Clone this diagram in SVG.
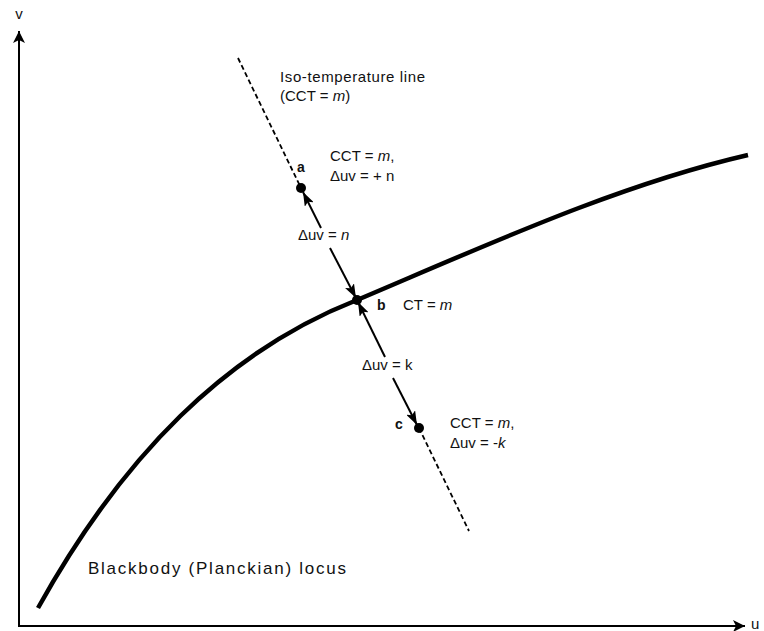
<svg xmlns="http://www.w3.org/2000/svg" width="764" height="631" viewBox="0 0 764 631">
<style>
  text { font-family: "Liberation Sans", Arial, sans-serif; font-size: 15px; fill: #111; }
  .bold { font-weight: bold; font-size: 14px; }
  .big { font-size: 17px; }
  .axis { stroke: #000; stroke-width: 2; fill: none; }
  .locus { stroke: #000; stroke-width: 4.5; fill: none; stroke-linecap: butt; }
  .iso { stroke: #000; stroke-width: 1.8; fill: none; stroke-dasharray: 5 3; }
  .conn { stroke: #000; stroke-width: 2; fill: none; }
  .dot { fill: #000; }
</style>
<defs>
  <marker id="axhead" viewBox="0 0 12 12" refX="12" refY="6" markerWidth="12" markerHeight="12" markerUnits="userSpaceOnUse" orient="auto">
    <path d="M0,0 L12,6 L0,12 L3,6 z" fill="#000"/>
  </marker>
  <marker id="head" viewBox="0 0 14 10" refX="14" refY="5" markerWidth="14" markerHeight="10" markerUnits="userSpaceOnUse" orient="auto">
    <path d="M0,0 L14,5 L0,10 L3,5 z" fill="#000"/>
  </marker>
</defs>

<g id="axes">
  <path class="axis" d="M19,626 L19,31" marker-end="url(#axhead)"/>
  <path class="axis" d="M18,626 L745,626" marker-end="url(#axhead)"/>
  <text x="19" y="19" text-anchor="middle">v</text>
  <text x="751" y="629">u</text>
</g>

<g id="locus">
  <path class="locus" d="M38,608 C123,455 227,351 357,300 C487,245 618,185 748,155"/>
  <text class="big" x="88" y="574" textLength="258" lengthAdjust="spacing">Blackbody (Planckian) locus</text>
</g>

<g id="iso-line">
  <path class="iso" d="M238,58 L301,188"/>
  <path class="iso" d="M419,428 L469,531"/>
  <text x="280" y="82" textLength="145" lengthAdjust="spacing">Iso-temperature line</text>
  <text x="280" y="101">(CCT = <tspan font-style="italic">m</tspan>)</text>
</g>

<g id="connectors">
  <path class="conn" d="M321,228 L303,192" marker-end="url(#head)"/>
  <path class="conn" d="M330,248 L356,298" marker-end="url(#head)"/>
  <path class="conn" d="M385,357 L358,302" marker-end="url(#head)"/>
  <path class="conn" d="M393,378 L417,425" marker-end="url(#head)"/>
  <text x="298" y="240">Δuv = <tspan font-style="italic">n</tspan></text>
  <text x="362" y="370">Δuv = k</text>
</g>

<g id="node-a">
  <circle class="dot" cx="301" cy="188" r="5"/>
  <text class="bold" x="297" y="172">a</text>
  <text x="330" y="161">CCT = <tspan font-style="italic">m</tspan>,</text>
  <text x="330" y="181">Δuv = + n</text>
</g>

<g id="node-b">
  <circle class="dot" cx="357" cy="300" r="5"/>
  <text class="bold" x="377" y="310">b</text>
  <text x="403" y="310">CT = <tspan font-style="italic">m</tspan></text>
</g>

<g id="node-c">
  <circle class="dot" cx="419" cy="428" r="5"/>
  <text class="bold" x="395" y="429">c</text>
  <text x="450" y="428">CCT = <tspan font-style="italic">m</tspan>,</text>
  <text x="450" y="448">Δuv = -<tspan font-style="italic">k</tspan></text>
</g>
</svg>
